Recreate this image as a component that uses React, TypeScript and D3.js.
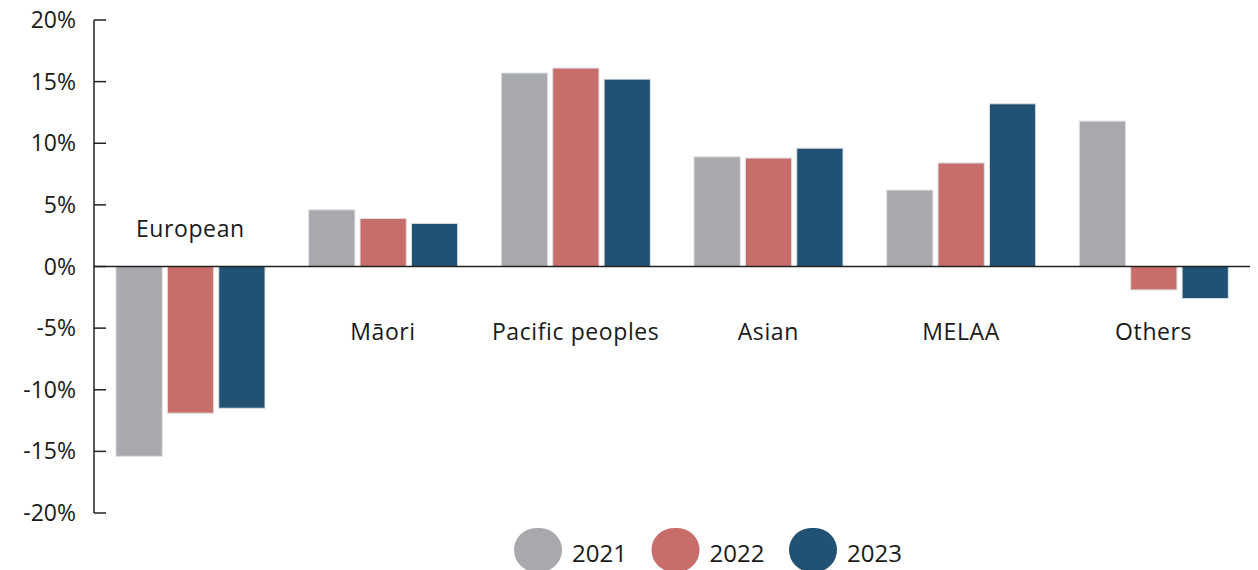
import * as d3 from 'd3';

const categories = ['European', 'Māori', 'Pacific peoples', 'Asian', 'MELAA', 'Others'];
const years = ['2021', '2022', '2023'];
const values2021 = [-15.4, 4.6, 15.7, 8.9, 6.2, 11.8];
const values2022 = [-11.9, 3.9, 16.1, 8.8, 8.4, -1.9];
const values2023 = [-11.5, 3.5, 15.2, 9.6, 13.2, -2.6];
const yTicks = [-20, -15, -10, -5, 0, 5, 10, 15, 20];
const colors = ['#a8a9ac', '#c76d6a', '#215273'];

const width = 1258;
const height = 570;
const font = '"Open Sans", Lato, sans-serif';

function App() {
  const series = [values2021, values2022, values2023];
  const x0 = d3.scaleBand<string>().domain(categories).range([94, 1250]);
  const x1 = d3.scaleBand<string>().domain(years).range([22, 171]).paddingInner(0.1);
  const y = d3.scaleLinear().domain([-20, 20]).range([513, 20]);

  return (
    <svg width={width} height={height} style={{ position: 'absolute', left: 0, top: 0 }}>
      {categories.map((c, i) => (
        <g key={c} transform={`translate(${x0(c)},0)`}>
          {years.map((yr, j) => {
            const v = series[j][i];
            return (
              <rect
                key={yr}
                x={x1(yr)}
                y={y(Math.max(0, v))}
                width={x1.bandwidth()}
                height={Math.abs(y(v) - y(0))}
                fill={colors[j]}
                stroke="#dde0e6"
                strokeWidth={1}
              />
            );
          })}
          <text
            x={x0.bandwidth() / 2}
            y={i === 0 ? y(0) - 30 : y(0) + 73}
            textAnchor="middle"
            fontFamily={font}
            fontSize={23}
            letterSpacing={0.6}
            fill="#1a1a1a"
          >
            {c}
          </text>
        </g>
      ))}
      <line x1={94} x2={1250} y1={y(0)} y2={y(0)} stroke="#222" strokeWidth={1.5} />
      <line x1={94} x2={94} y1={y(20)} y2={y(-20)} stroke="#222" strokeWidth={1.5} />
      {yTicks.map((t) => (
        <g key={t}>
          <line x1={94} x2={106} y1={y(t)} y2={y(t)} stroke="#222" strokeWidth={1.5} />
          <text
            x={76}
            y={y(t)}
            dy="0.35em"
            textAnchor="end"
            fontFamily={font}
            fontSize={23}
            fill="#1a1a1a"
          >
            {t}%
          </text>
        </g>
      ))}
      {years.map((yr, j) => {
        const lx = 514 + j * 137.5;
        return (
          <g key={yr}>
            <rect x={lx} y={528} width={48} height={44} rx={22} fill={colors[j]} />
            <text x={lx + 58} y={562} fontFamily={font} fontSize={24} fill="#1a1a1a">
              {yr}
            </text>
          </g>
        );
      })}
    </svg>
  );
}

export default App;
